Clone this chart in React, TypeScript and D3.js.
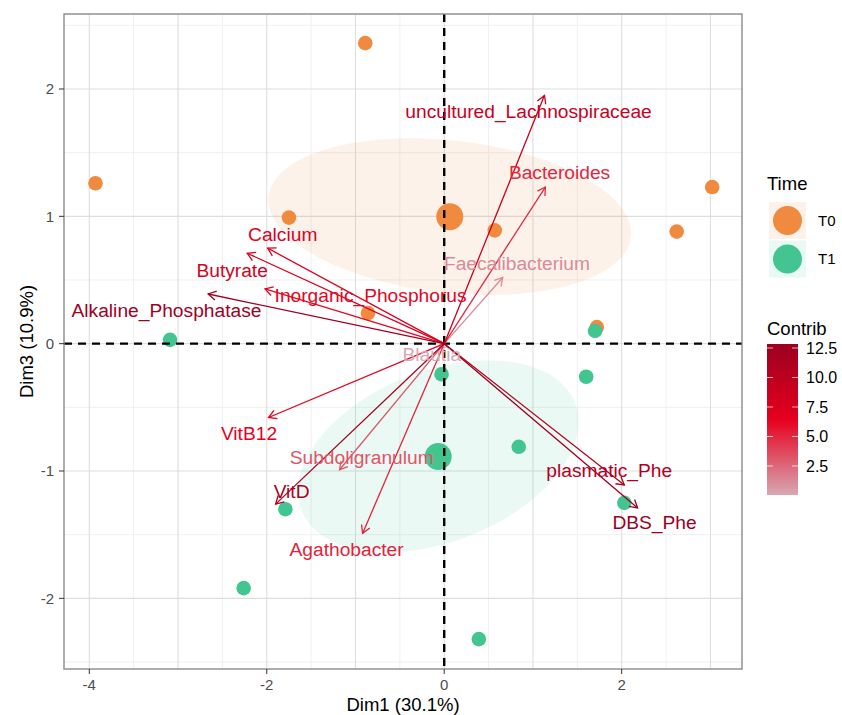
import React from 'react'
import * as d3 from 'd3'

// individuals (Dim1, Dim3)
const t0X = [-0.89, -3.93, -1.75, 0.57, 3.02, 2.62, -0.86, 1.72]
const t0Y = [2.36, 1.26, 0.99, 0.89, 1.23, 0.88, 0.24, 0.13]
const t1X = [-3.09, -0.03, 1.6, 0.84, 2.03, -1.79, -2.26, 0.39, 1.7]
const t1Y = [0.03, -0.24, -0.26, -0.81, -1.25, -1.3, -1.92, -2.32, 0.1]

// variables
const varNames = [
	'uncultured_Lachnospiraceae',
	'Bacteroides',
	'Faecalibacterium',
	'Calcium',
	'Butyrate',
	'Inorganic_Phosphorus',
	'Alkaline_Phosphatase',
	'Blautia',
	'VitB12',
	'Subdoligranulum',
	'VitD',
	'Agathobacter',
	'plasmatic_Phe',
	'DBS_Phe',
]
const varX = [1.13, 1.14, 0.66, -1.99, -2.22, -2.02, -2.66, -0.06, -1.98, -1.18, -1.9, -0.92, 2.03, 2.18]
const varY = [1.95, 1.23, 0.52, 0.75, 0.71, 0.43, 0.39, -0.04, -0.58, -0.99, -1.26, -1.49, -1.11, -1.29]
const varContrib = [9.0, 5.0, 1.2, 7.0, 7.8, 6.2, 12.3, 0.04, 6.5, 3.2, 11.5, 5.2, 10.8, 12.84]
const labelX = [0.95, 1.3, 0.82, -1.82, -2.39, -0.83, -3.13, -0.14, -2.2, -0.93, -1.72, -1.1, 1.86, 2.37]
const labelY = [1.83, 1.35, 0.63, 0.86, 0.58, 0.38, 0.26, -0.08, -0.7, -0.89, -1.16, -1.61, -0.99, -1.4]

// confidence ellipses: semi axes and tilt (data units)
const ellA = [2.05, 1.61]
const ellB = [0.6, 0.69]
const ellAngle = [-0.07, 0.21]

const groups = ['T0', 'T1']
const groupColors = ['#F08A3E', '#42C590']
const xTicks = [-4, -2, 0, 2]
const yTicks = [-2, -1, 0, 1, 2]
const contribTicks = [2.5, 5, 7.5, 10, 12.5]
const gradientCols = ['#D7A8B3', '#E6001E', '#9B001F']

const W = 842
const H = 715
const panel = { left: 64, top: 14, right: 742, bottom: 669 }
const font = "'Liberation Sans', Arial, sans-serif"

export default function App() {
	const x = d3.scaleLinear().domain([-4.285, 3.356]).range([panel.left, panel.right])
	const y = d3.scaleLinear().domain([-2.555, 2.589]).range([panel.bottom, panel.top])

	const cExtent = d3.extent(varContrib) as [number, number]
	const color = d3
		.scaleLinear<string>()
		.domain([cExtent[0], (cExtent[0] + cExtent[1]) / 2, cExtent[1]])
		.range(gradientCols)
		.interpolate(d3.interpolateRgb)

	const groupData = [
		t0X.map((v, i) => ({ x: v, y: t0Y[i] })),
		t1X.map((v, i) => ({ x: v, y: t1Y[i] })),
	]
	const centroids = groupData.map((g) => ({
		x: d3.mean(g, (d) => d.x) as number,
		y: d3.mean(g, (d) => d.y) as number,
	}))

	const line = d3
		.line<[number, number]>()
		.x((d) => x(d[0]))
		.y((d) => y(d[1]))
		.curve(d3.curveLinearClosed)

	const ellipsePath = (gi: number) => {
		const c = centroids[gi]
		const a = ellA[gi]
		const b = ellB[gi]
		const th = ellAngle[gi]
		const pts: [number, number][] = d3.range(0, 2 * Math.PI, Math.PI / 60).map((t) => [
			c.x + a * Math.cos(t) * Math.cos(th) - b * Math.sin(t) * Math.sin(th),
			c.y + a * Math.cos(t) * Math.sin(th) + b * Math.sin(t) * Math.cos(th),
		])
		return line(pts) as string
	}

	const xMinor = d3.range(-4.5, 3.5, 1).filter((v) => x(v) > panel.left && x(v) < panel.right)
	const yMinor = d3.range(-2.5, 3, 1).filter((v) => y(v) < panel.bottom && y(v) > panel.top)

	const arrowHead = (x0: number, y0: number, x1: number, y1: number) => {
		const ang = Math.atan2(y1 - y0, x1 - x0)
		const len = 9
		const a1 = ang + Math.PI - Math.PI / 6
		const a2 = ang + Math.PI + Math.PI / 6
		return `M${x1 + len * Math.cos(a1)},${y1 + len * Math.sin(a1)}L${x1},${y1}L${
			x1 + len * Math.cos(a2)
		},${y1 + len * Math.sin(a2)}`
	}

	// colorbar
	const cb = { left: 767, right: 798, top: 344, bottom: 495 }
	const cbScale = d3.scaleLinear().domain(cExtent).range([cb.bottom, cb.top])
	const gradStops = d3.range(0, 1.0001, 0.05)

	const order = d3.range(varNames.length).sort((a, b) => varContrib[a] - varContrib[b])

	return (
		<svg width={W} height={H} style={{ display: 'block', fontFamily: font }}>
			<style>{'body{margin:0}'}</style>
			<defs>
				<clipPath id="panel-clip">
					<rect x={panel.left} y={panel.top} width={panel.right - panel.left} height={panel.bottom - panel.top} />
				</clipPath>
				<linearGradient id="cb-grad" x1="0" y1="1" x2="0" y2="0">
					{gradStops.map((s) => (
						<stop key={s} offset={s} stopColor={color(cExtent[0] + s * (cExtent[1] - cExtent[0]))} />
					))}
				</linearGradient>
			</defs>
			<rect x={0} y={0} width={W} height={H} fill="#fff" />

			{/* grid */}
			<g clipPath="url(#panel-clip)">
				{xMinor.map((v) => (
					<line key={'xm' + v} x1={x(v)} x2={x(v)} y1={panel.top} y2={panel.bottom} stroke="#F0F0F0" strokeWidth={1} />
				))}
				{yMinor.map((v) => (
					<line key={'ym' + v} y1={y(v)} y2={y(v)} x1={panel.left} x2={panel.right} stroke="#F0F0F0" strokeWidth={1} />
				))}
				{d3.range(-4, 4, 1).map((v) => (
					<line key={'xg' + v} x1={x(v)} x2={x(v)} y1={panel.top} y2={panel.bottom} stroke="#DEDEDE" strokeWidth={1.1} />
				))}
				{yTicks.map((v) => (
					<line key={'yg' + v} y1={y(v)} y2={y(v)} x1={panel.left} x2={panel.right} stroke="#DEDEDE" strokeWidth={1.1} />
				))}

				{/* ellipses */}
				{groups.map((g, gi) => (
					<path key={'e' + g} d={ellipsePath(gi)} fill={groupColors[gi]} fillOpacity={0.11} stroke="none" />
				))}

				{/* points */}
				{groupData.map((g, gi) =>
					g.map((d, i) => (
						<circle key={groups[gi] + i} cx={x(d.x)} cy={y(d.y)} r={7.3} fill={groupColors[gi]} />
					))
				)}
				{centroids.map((c, gi) => (
					<circle key={'c' + gi} cx={x(c.x)} cy={y(c.y)} r={13.5} fill={groupColors[gi]} />
				))}

				{/* reference lines */}
				<line x1={x(0)} x2={x(0)} y1={panel.top} y2={panel.bottom} stroke="#000" strokeWidth={2.4} strokeDasharray="8,6" />
				<line y1={y(0)} y2={y(0)} x1={panel.left} x2={panel.right} stroke="#000" strokeWidth={2.4} strokeDasharray="8,6" />

				{/* arrows */}
				{order.map((i) => (
					<g key={'a' + i} stroke={color(varContrib[i])} strokeWidth={1.3} fill="none">
						<line x1={x(0)} y1={y(0)} x2={x(varX[i])} y2={y(varY[i])} />
						<path d={arrowHead(x(0), y(0), x(varX[i]), y(varY[i]))} />
					</g>
				))}
				{order.map((i) => (
					<text
						key={'l' + i}
						x={x(labelX[i])}
						y={y(labelY[i])}
						dy="0.36em"
						textAnchor="middle"
						fontSize={19.2}
						fill={color(varContrib[i])}
					>
						{varNames[i]}
					</text>
				))}
			</g>

			{/* panel border */}
			<rect
				x={panel.left}
				y={panel.top}
				width={panel.right - panel.left}
				height={panel.bottom - panel.top}
				fill="none"
				stroke="#8A8A8A"
				strokeWidth={1.4}
			/>

			{/* axes */}
			{xTicks.map((v) => (
				<g key={'xt' + v}>
					<line x1={x(v)} x2={x(v)} y1={panel.bottom} y2={panel.bottom + 5} stroke="#333" strokeWidth={1} />
					<text x={x(v)} y={panel.bottom + 21} textAnchor="middle" fontSize={15} fill="#4D4D4D">
						{v}
					</text>
				</g>
			))}
			{yTicks.map((v) => (
				<g key={'yt' + v}>
					<line x1={panel.left - 5} x2={panel.left} y1={y(v)} y2={y(v)} stroke="#333" strokeWidth={1} />
					<text x={panel.left - 10} y={y(v)} dy="0.36em" textAnchor="end" fontSize={15} fill="#4D4D4D">
						{v}
					</text>
				</g>
			))}
			<text x={(panel.left + panel.right) / 2} y={711} textAnchor="middle" fontSize={18.5} fill="#000">
				Dim1 (30.1%)
			</text>
			<text
				transform={`translate(26,${(panel.top + panel.bottom) / 2}) rotate(-90)`}
				textAnchor="middle"
				dy="0.36em"
				fontSize={18.5}
				fill="#000"
			>
				Dim3 (10.9%)
			</text>

			{/* legend: Time */}
			<text x={767} y={190} fontSize={18.5} fill="#000">
				Time
			</text>
			{groups.map((g, gi) => (
				<g key={'lg' + g} transform={`translate(769,${202 + gi * 38.5})`}>
					<rect width={37} height={37} fill={groupColors[gi]} fillOpacity={0.11} />
					<circle cx={18.5} cy={18.5} r={14.5} fill={groupColors[gi]} />
					<text x={49} y={18.5} dy="0.36em" fontSize={15} fill="#000">
						{g}
					</text>
				</g>
			))}

			{/* legend: Contrib */}
			<text x={767} y={335} fontSize={18.5} fill="#000">
				Contrib
			</text>
			<rect x={cb.left} y={cb.top} width={cb.right - cb.left} height={cb.bottom - cb.top} fill="url(#cb-grad)" />
			{contribTicks.map((t) => (
				<g key={'ct' + t}>
					<line x1={cb.left} x2={cb.left + 6} y1={cbScale(t)} y2={cbScale(t)} stroke="#fff" strokeOpacity={0.7} />
					<line x1={cb.right - 6} x2={cb.right} y1={cbScale(t)} y2={cbScale(t)} stroke="#fff" strokeOpacity={0.7} />
					<text x={cb.right + 8} y={cbScale(t)} dy="0.36em" fontSize={16} fill="#000">
						{t.toFixed(1)}
					</text>
				</g>
			))}
		</svg>
	)
}
